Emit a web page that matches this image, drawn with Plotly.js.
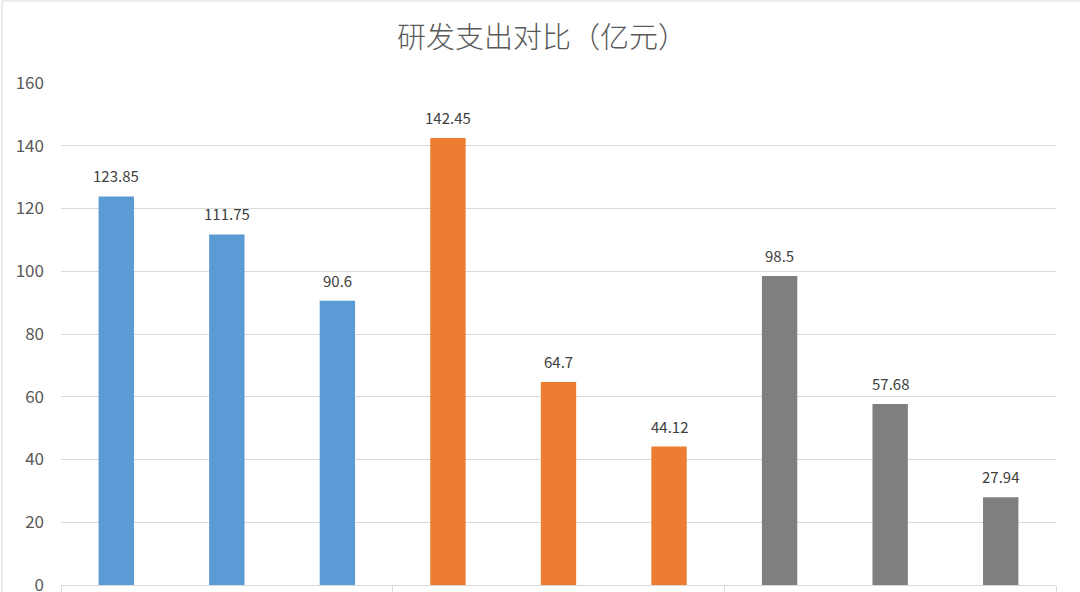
<!DOCTYPE html>
<html>
<head>
<meta charset="utf-8">
<script src="https://cdn.plot.ly/plotly-3.0.1.min.js"></script>
<style>html,body{margin:0;padding:0;background:#fff;}#chart{width:1080px;height:592px;}</style>
</head>
<body>
<div id="chart"></div>
<script>
const categories = ['A1','A2','A3','B1','B2','B3','C1','C2','C3'];
const values = [123.85, 111.75, 90.6, 142.45, 64.7, 44.12, 98.5, 57.68, 27.94];
const labels = ['123.85','111.75','90.6','142.45','64.7','44.12','98.5','57.68','27.94'];
const barColors = ['#5B9BD5','#5B9BD5','#5B9BD5','#ED7D31','#ED7D31','#ED7D31','#7F7F7F','#7F7F7F','#7F7F7F'];
const yTicks = [0,20,40,60,80,100,120,140,160];
const titleText = '研发支出对比（亿元）';

const xIdx = categories.map((c,i)=>i);
const font = '"Noto Sans CJK SC", "Noto Sans", sans-serif';

const trace = {
  type: 'bar',
  x: xIdx,
  y: values,
  marker: {color: barColors, line: {width: 0}},
  width: 0.32,
  hoverinfo: 'skip'
};

const annotations = xIdx.map((i)=>({
  x: i, y: values[i], xref: 'x', yref: 'y',
  text: labels[i], showarrow: false,
  yanchor: 'bottom', yshift: 8,
  font: {family: font, size: 15, color: '#404040'}
}));

const layout = {
  width: 1080, height: 592,
  margin: {l: 61, r: 24, t: 83, b: 7},
  paper_bgcolor: '#ffffff', plot_bgcolor: '#ffffff',
  showlegend: false,
  title: {
    text: titleText,
    x: 522/1080, xanchor: 'center', xref: 'paper',
    y: 1 - 38/592, yanchor: 'middle', yref: 'container',
    font: {family: font, size: 29, color: '#595959', weight: 300}
  },
  xaxis: {
    range: [-0.5, 8.5],
    tickvals: [-0.5, 2.5, 5.5, 8.5],
    ticks: 'outside', ticklen: 8, tickcolor: '#d9d9d9', tickwidth: 1,
    showticklabels: false,
    showgrid: false, zeroline: false,
    showline: true, linecolor: '#d9d9d9', linewidth: 1,
    fixedrange: true
  },
  yaxis: {
    range: [0, 160],
    tickvals: yTicks,
    ticktext: yTicks.map(String),
    showgrid: true, gridcolor: '#d9d9d9', gridwidth: 1,
    zeroline: false, showline: false,
    ticks: '', ticklabelstandoff: 16,
    ticklabeloverflow: 'allow',
    tickfont: {family: font, size: 17, color: '#595959'},
    fixedrange: true
  },
  annotations: annotations,
  shapes: [{
    type: 'rect', xref: 'paper', yref: 'paper',
    x0: -59/995, x1: 1.2, y0: -1, y1: 1 + 82/502,
    line: {color: '#d9d9d9', width: 1}, fillcolor: 'rgba(0,0,0,0)', layer: 'below'
  }]
};

Plotly.newPlot('chart', [trace], layout, {displayModeBar: false, staticPlot: true});
</script>
</body>
</html>
